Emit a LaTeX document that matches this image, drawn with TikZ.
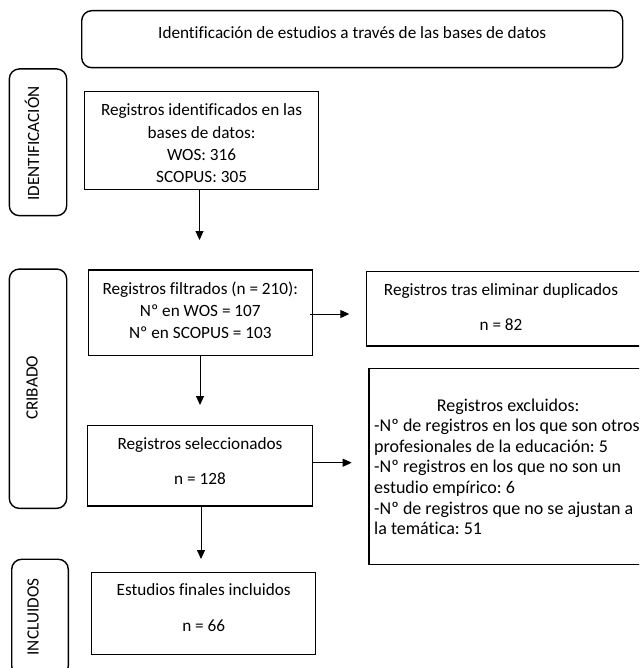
\documentclass[tikz,border=0pt]{standalone}
\usepackage{fontspec}
\setmainfont{Carlito}[Ligatures=NoCommon]
\frenchspacing
\usetikzlibrary{arrows.meta}
\tikzset{
  box/.style={draw=black, line width=1.4pt, inner sep=0pt, fill=none},
  sidebox/.style={box, rounded corners=10pt},
  txt/.style={font=\fontsize{17.2}{22.3}\selectfont, align=center, inner sep=0pt, text=black},
  sidetxt/.style={font=\fontsize{17.2}{20}\selectfont, inner sep=0pt, rotate=90, text=black},
  arr/.style={-{Triangle[width=8pt,length=9pt]}, line width=0.9pt, draw=black}
}
\begin{document}
\begin{tikzpicture}[x=1pt,y=-1pt]
\useasboundingbox (0,0) rectangle (639,668);
\clip (0,0) rectangle (639,668);
\fill[white] (0,0) rectangle (639,668);

% header
\node[sidebox, minimum width=541pt, minimum height=57pt] (b0) at (352.2,39.2) {};
\node[txt] (t0) at (352.2,33) {Identificación de estudios a través de las bases de datos};

% side labels
\node[sidebox, minimum width=57.4pt, minimum height=146.7pt] (s1) at (38,142.3) {};
\node[sidetxt] (st1) at (32,143.5) {IDENTIFICACIÓN};
\node[sidebox, minimum width=57.4pt, minimum height=239.3pt] (s2) at (38,388.7) {};
\node[sidetxt] (st2) at (32,388) {CRIBADO};
\node[sidebox, minimum width=56.6pt, minimum height=116.7pt] (s3) at (40,617.6) {};
\node[sidetxt] (st3) at (33,617) {INCLUIDOS};

% boxes
\node[box, minimum width=233.6pt, minimum height=97.6pt] (b1) at (201.5,140.5) {};
\node[txt] (t1) at (201.6,143.4) {Registros identificados en las\\bases de datos:\\WOS: 316\\SCOPUS: 305};

\node[box, minimum width=224pt, minimum height=85.5pt] (b2) at (200.3,312.7) {};
\node[txt] (t2) at (200.3,310.2) {Registros filtrados (n = 210):\\Nº en WOS = 107\\Nº en SCOPUS = 103};

\node[box, minimum width=283.3pt, minimum height=74.3pt] (b3) at (508.4,308.9) {};
\node[txt] (t3) at (501,307.2) {Registros tras eliminar duplicados\\[13pt]n = 82};

\node[box, minimum width=281pt, minimum height=196pt] (b4) at (509.5,466.3) {};
\node[txt, align=left, anchor=west, font=\fontsize{18}{20.6}\selectfont] (t4) at (374,466.7) {\makebox[268pt][c]{Registros excluidos:}\\-Nº de registros en los que son otros\\profesionales de la educación: 5\\-Nº registros en los que no son un\\estudio empírico: 6\\-Nº de registros que no se ajustan a\\la temática: 51};

\node[box, minimum width=225pt, minimum height=80.3pt] (b5) at (199.8,465.8) {};
\node[txt] (t5) at (200,460.8) {Registros seleccionados\\[12.7pt]n = 128};

\node[box, minimum width=224pt, minimum height=81.6pt] (b6) at (203.7,613.5) {};
\node[txt] (t6) at (203.7,607.9) {Estudios finales incluidos\\[13.4pt]n = 66};

% connectors
\coordinate (e0) at (199.5,240);
\coordinate (e1) at (349.3,314);
\coordinate (e2) at (200,405);
\coordinate (e3) at (351.7,462.7);
\coordinate (e4) at (201,559);
\draw[arr] (b1.south -| e0) -- (e0);
\draw[arr] ([xshift=-3pt]b2.east |- e1) -- (e1);
\draw[arr] (b2.south -| e2) -- (e2);
\draw[arr] (b5.east |- e3) -- (e3);
\draw[arr] (b5.south -| e4) -- (e4);
\end{tikzpicture}
\end{document}
